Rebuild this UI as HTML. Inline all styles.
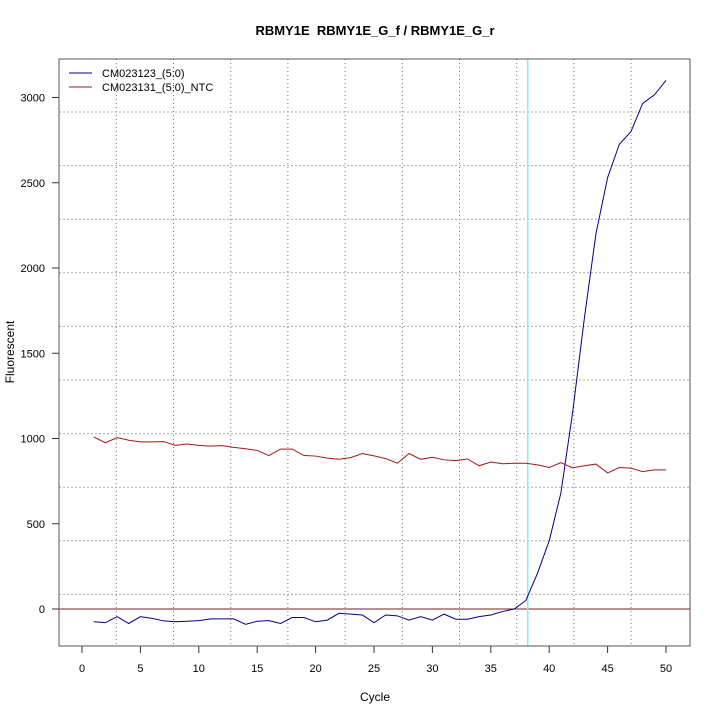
<!DOCTYPE html>
<html><head><meta charset="utf-8"><style>
html,body{margin:0;padding:0;background:#fff;width:720px;height:720px;overflow:hidden}
svg text{font-family:"Liberation Sans",sans-serif;fill:#000}
</style></head><body>
<svg id="chart" width="720" height="720" xmlns="http://www.w3.org/2000/svg">
<text x="375" y="35" font-size="13" font-weight="bold" text-anchor="middle" style="white-space:pre">RBMY1E  RBMY1E_G_f / RBMY1E_G_r</text>
<g id="grid"></g>
<g id="axes"></g>
<g id="series"></g>
<rect x="59" y="59" width="631" height="587" fill="none" stroke="#555" stroke-width="1"/>
<text x="375" y="701" font-size="12" text-anchor="middle">Cycle</text>
<text x="14" y="352" font-size="12" text-anchor="middle" transform="rotate(-90 14 352)">Fluorescent</text>
<g>
<line x1="69" y1="73" x2="92" y2="73" stroke="#00008b" stroke-width="1"/>
<text x="102" y="77" font-size="11">CM023123_(5:0)</text>
<line x1="69" y1="87" x2="92" y2="87" stroke="#a01818" stroke-width="1"/>
<text x="102" y="91" font-size="11">CM023131_(5:0)_NTC</text>
</g>
</svg>
<script>
const cycles = Array.from({length:50},(_,i)=>i+1);
const sampleValues = [-75,-80,-45,-85,-45,-55,-70,-75,-72,-68,-58,-58,-58,-90,-72,-68,-85,-50,-50,-75,-65,-25,-30,-35,-80,-35,-40,-65,-45,-65,-30,-60,-60,-45,-35,-15,0,50,210,400,680,1150,1700,2200,2530,2725,2800,2965,3015,3100];
const ntcValues = [1010,975,1005,990,980,980,982,960,968,960,955,958,948,940,930,900,938,938,900,897,885,878,888,912,898,882,855,912,878,890,875,870,880,840,862,852,855,855,845,830,858,828,840,850,798,830,826,806,816,816];
const xTicks = [0,5,10,15,20,25,30,35,40,45,50];
const yTicks = [0,500,1000,1500,2000,2500,3000];
const threshold = 38.16;
const NS="http://www.w3.org/2000/svg";
const X = c => 82 + c*11.68;
const Y = v => 609 - v*0.1705;
function mk(tag, attrs, parent){const e=document.createElementNS(NS,tag);for(const k in attrs)e.setAttribute(k,attrs[k]);parent.appendChild(e);return e;}
const grid=document.getElementById('grid'), axes=document.getElementById('axes'), series=document.getElementById('series');
for(let i=0;i<10;i++){const gx=116.3+i*57.2;
 const l=mk('line',{x1:gx,y1:59,x2:gx,y2:646,stroke:'#777','stroke-dasharray':'1,3'},grid);
 
 }
for(let i=0;i<10;i++){const gy=112+i*53.6;
 const l=mk('line',{x1:59,y1:gy,x2:690,y2:gy,stroke:'#aaa','stroke-dasharray':'2,2'},grid);
 
 }
mk('line',{x1:59,y1:59,x2:59,y2:646,stroke:'#333'},axes);
mk('line',{x1:59,y1:646,x2:690,y2:646,stroke:'#333'},axes);
xTicks.forEach(t=>{
 const tk=mk('line',{x1:X(t),y1:646,x2:X(t),y2:653,stroke:'#333'},axes);
 
 
 const tx=mk('text',{x:X(t),y:672,'font-size':11,'text-anchor':'middle'},axes);tx.textContent=t;
 
 });
yTicks.forEach(t=>{
 const tk=mk('line',{x1:52,y1:Y(t),x2:59,y2:Y(t),stroke:'#333'},axes);
 
 
 const tx=mk('text',{x:45,y:Y(t)+4,'font-size':11,'text-anchor':'end'},axes);tx.textContent=t;
 
 });
const zl=mk('line',{x1:59,y1:Y(0),x2:690,y2:Y(0),stroke:'#7a1f1f'},series);


const th=mk('line',{x1:X(threshold),y1:59,x2:X(threshold),y2:646,stroke:'#7ff0f0','stroke-width':1.5},series);


const p1=mk('polyline',{points:cycles.map((c,i)=>X(c)+','+Y(sampleValues[i])).join(' '),fill:'none',stroke:'#00008b','stroke-width':1},series);


const p2=mk('polyline',{points:cycles.map((c,i)=>X(c)+','+Y(ntcValues[i])).join(' '),fill:'none',stroke:'#a01818','stroke-width':1},series);


</script>
</body></html>
